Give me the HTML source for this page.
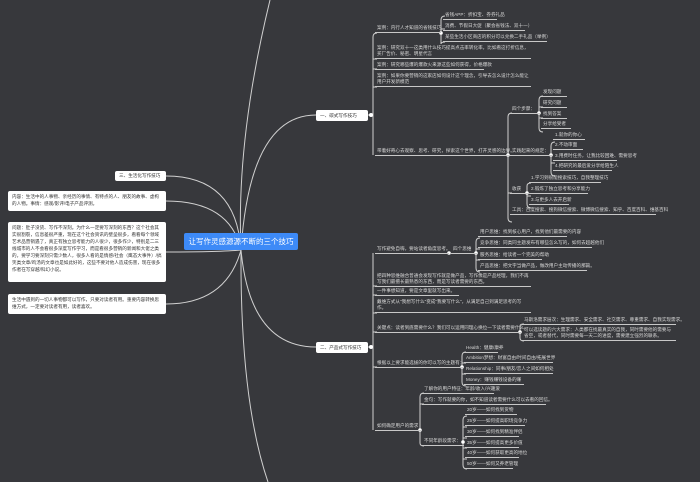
<!DOCTYPE html>
<html><head><meta charset="utf-8"><style>
body{margin:0;width:700px;height:482px;background:#37383c;position:relative;overflow:hidden;font-family:"Liberation Sans","Noto Sans CJK SC",sans-serif}
.t{position:absolute;font-size:4.6px;line-height:6px;color:#d8d8d8;border-bottom:1px solid #c8c8c8;padding:0 2px 1px;white-space:nowrap}
.w{white-space:normal}
.b{position:absolute;background:#fff;color:#333;border-radius:2px;font-size:4.6px;line-height:7px;padding:2px 4px;box-sizing:border-box}
.c{position:absolute;background:#3d8af7;color:#fff;border-radius:2px;font-size:7.5px;line-height:17px;text-align:center;white-space:nowrap;overflow:hidden}
</style></head><body>
<svg width="700" height="482" style="position:absolute;left:0;top:0" fill="none" stroke="#d0d0d0" stroke-width="1">
<path d="M241,250 Q236,176 166,176"/>
<path d="M241,250 Q230,201 166,201"/>
<path d="M241,250 Q220,252 166,252"/>
<path d="M241,250 Q226,304 166,304"/>
<path d="M241,250 Q250,115 316,115"/>
<path d="M241,250 Q250,347 316,347"/>
<path d="M241,250 Q236,140 270,0"/>
<path d="M241,250 Q240,400 268,482"/>
<path d="M368,115 H373 M373,155 V37 Q373,33 377,33 M373,59 H377 M373,69 H377 M373,87 H377"/>
<path d="M441,33 V20 Q441,16 445,16 M441,33 V44 Q441,42 445,42 M441,29 H445"/>
<path d="M508,155 V117 Q508,113 512,113 M508,155 V218 Q508,222 512,222 M508,193 H512"/>
<path d="M539,113 V100 Q539,96 543,96 M539,113 V128 Q539,132 543,132 M539,107 H543 M539,118 H543"/>
<path d="M551,155 V146 Q551,142 555,142 M551,155 V172 Q551,176 555,176 M551,163 H555"/>
<path d="M527,193 V186 Q527,183 531,183 M527,193 V204 Q527,208 531,208 M527,196 H531"/>
<path d="M368,347 H373 M373,253 V430 M373,286 H377 M373,295 H377 M373,313 H377 M373,332 H377 M373,367 H377"/>
<path d="M476,253 V242 Q476,238 480,238 M476,253 V268 Q476,272 480,272 M476,249 H480 M476,260 H480"/>
<path d="M520,332 V326 Q520,324 524,324 M520,332 V338 Q520,341 524,341"/>
<path d="M462,367 V356 Q462,352 466,352 M462,367 V382 Q462,386 466,386 M462,363 H466 M462,374 H466"/>
<path d="M420,430 V397 Q420,393 424,393 M420,430 V443 Q420,446 424,446 M420,404 H424"/>
<path d="M463,442 V420 Q463,416 467,416 M463,442 V465 Q463,469 467,469 M463,427 H467 M463,438 H467 M463,448 H467 M463,459 H467"/>
</svg>
<svg width="700" height="482" style="position:absolute;left:0;top:0" fill="#fff">
<circle cx="371" cy="115" r="2"/><circle cx="371" cy="347" r="2"/>
<circle cx="441" cy="33" r="1.8"/><circle cx="508" cy="155" r="1.8"/><circle cx="539" cy="113" r="1.8"/><circle cx="551" cy="155" r="1.8"/><circle cx="527" cy="193" r="1.8"/>
<circle cx="449" cy="253" r="1.8"/><circle cx="476" cy="253" r="1.8"/><circle cx="520" cy="332" r="1.8"/><circle cx="462" cy="367" r="1.8"/><circle cx="420" cy="430" r="1.8"/><circle cx="463" cy="442" r="1.8"/>
</svg>
<div class="c" style="left:184px;top:233px;width:114px;height:17px">让写作灵感源源不断的三个技巧</div>
<div class="b" style="left:115px;top:171px;width:51px;height:10px;line-height:6px;padding:2px 4px">三、生活化写作技巧</div>
<div class="b" style="left:8px;top:191px;width:158px;height:20px">内容：生活中的人事物、亲经历的事情、有特点的人、朋友的故事、虚构的人物。事情：感观/影评/电子产品评测。</div>
<div class="b" style="left:8px;top:222px;width:158px;height:60px">问题：肚子没货、写作不深刻。为什么一定要写深刻的东西？这个社会其实很割裂，信息差很严重，现在这个社会资讯的壁垒很多，看看每个领域艺术品营销遇了，真正有独立思考能力的人很少，很多作少，特别是二三线城市的人不会看很多深度写作学习，而是看很多营销的新闻和大佬之类的，要学习要深刻只需少数人，很多人看的是情感/社会（鹰态大事件）/搞笑类文章/鸡汤的文章也是如此好的，这些不要对他人造成伤害，现在很多作者在写穿越/科幻小说。</div>
<div class="b" style="left:8px;top:294px;width:158px;height:20px">生活中遇到的一切人事物都可以写作，只要对读者有用。重要内容转换思维方式，一定要对读者有用，读者喜欢。</div>
<div class="b" style="left:316px;top:110px;width:52px;height:11px;line-height:7px;padding:2px 4px">一、碳式写作技巧</div>
<div class="b" style="left:316px;top:342px;width:52px;height:11px;line-height:7px;padding:2px 4px">二、产品式写作技巧</div>
<div class="t" style="left:375px;top:25px;width:62px">案例：内行人才知道的省钱技巧</div>
<div class="t" style="left:443px;top:12px;width:50px">省钱APP：折扣宝、券券礼品</div>
<div class="t" style="left:443px;top:23px;width:78px">消费、节假日大促（聚会省钱法、双十一）</div>
<div class="t" style="left:443px;top:34px;width:100px">某些生活小区商店的积分可以兑换二手礼品（举例）</div>
<div class="t w" style="left:375px;top:45px;width:152px">案例：研究双十一这类用什么技巧提高点击率转化率，比如看这打折信息，买厂告价、秘密、明星代言</div>
<div class="t" style="left:375px;top:62px;width:105px">案例：研究哪些爆的爆款火来源这些如何获得，价格爆款</div>
<div class="t w" style="left:375px;top:73px;width:152px">案例：如果你要营销的这家店如何设计这个理念，引导去怎么设计怎么能让用户开发新模范</div>
<div class="t" style="left:375px;top:148px;width:131px">带着好奇心去观察、思考、研究，探索这个世界，打开灵感的边界。</div>
<div class="t" style="left:510px;top:106px;width:27px">四个步骤：</div>
<div class="t" style="left:541px;top:89px;width:22px">发现问题</div>
<div class="t" style="left:541px;top:100px;width:22px">研究问题</div>
<div class="t" style="left:541px;top:111px;width:22px">找到答案</div>
<div class="t" style="left:541px;top:121px;width:26px">分享给受者</div>
<div class="t" style="left:510px;top:148px;width:38px">实践起来的规定：</div>
<div class="t" style="left:553px;top:132px;width:28px">1.就你的你心</div>
<div class="t" style="left:553px;top:142px;width:26px">2.不动审面</div>
<div class="t" style="left:553px;top:153px;width:60px">3.用费时任务，让我比较困难、需要思考</div>
<div class="t" style="left:553px;top:163px;width:55px">4.把研究的最后爱分享给陌生人</div>
<div class="t" style="left:510px;top:186px;width:14px">收获</div>
<div class="t" style="left:529px;top:175px;width:68px">1.学习到很能搜索技巧，自我整理技巧</div>
<div class="t" style="left:529px;top:186px;width:55px">2.锻炼了独立思考和分享能力</div>
<div class="t" style="left:529px;top:197px;width:36px">3.与更多人去开启新</div>
<div class="t" style="left:510px;top:207px;width:142px">工具：百度搜索、搜狗微信搜索、微博微信搜索、知乎、百度百科、维基百科</div>
<div class="t" style="left:375px;top:246px;width:70px">写作避免自嗨，要站读者角度思考。</div>
<div class="t" style="left:451px;top:246px;width:22px">四个思维</div>
<div class="t" style="left:478px;top:229px;width:85px">用户思维：找到核心用户，找到他们最需要的内容</div>
<div class="t" style="left:478px;top:240px;width:110px">竞争思维：同类同主题发布有哪些怎么写的，如何去超越他们</div>
<div class="t" style="left:478px;top:252px;width:60px">服务思维：给读者一个完美的帮助</div>
<div class="t" style="left:478px;top:263px;width:105px">产品思维：把文字当做产品，做改用户主动传播的那篇。</div>
<div class="t w" style="left:375px;top:273px;width:152px">把四种思维融合普通会发现写作就是做产品，写作像是产品经理，我们不再写我们最擅长最熟悉的东西，而是写读者需要的东西。</div>
<div class="t" style="left:375px;top:288px;width:80px">一件事想知道，要是文章里就写出来。</div>
<div class="t w" style="left:375px;top:299px;width:152px">戴维方式从"我想写什么"变成"我要写什么"，从满足自己到满足思考的写作。</div>
<div class="t" style="left:375px;top:325px;width:142px">关键点：读者到底需要什么？我们可以运用同理心换位一下读者需要什么。</div>
<div class="t" style="left:522px;top:317px;width:150px">马斯洛需求层次：生理需求、安全需求、社交需求、尊重需求、自我实现需求。</div>
<div class="t w" style="left:522px;top:327px;width:150px">可以选读题的六大需求：人类都在找最真实的自我，同时需要他的需要与省空，或者替代，同时需要每一天二的进度，需要建立强烈的联系。</div>
<div class="t" style="left:375px;top:360px;width:84px">根据以上要求能选拔的你可以写的主题有：</div>
<div class="t" style="left:464px;top:345px;width:30px">Health：健康/康养</div>
<div class="t" style="left:464px;top:355px;width:85px">Ambition梦想：财富自由/时间自由/拓展世界</div>
<div class="t" style="left:464px;top:366px;width:85px">Relationship：同事/朋友/恋人之间如何相处</div>
<div class="t" style="left:464px;top:377px;width:56px">Money：赚钱赚钱设备的赚</div>
<div class="t" style="left:375px;top:423px;width:42px">如何确定用户的需求</div>
<div class="t" style="left:422px;top:386px;width:68px">了解你的用户特征：年龄/收入/兴趣爱</div>
<div class="t" style="left:422px;top:397px;width:120px">金句：写作就要的你，如不知道读者需要什么可以去看的回信。</div>
<div class="t" style="left:422px;top:438px;width:38px">不同年龄段需求：</div>
<div class="t" style="left:465px;top:407px;width:48px">20岁——如何找到货物</div>
<div class="t" style="left:465px;top:418px;width:56px">25岁——如何提高职场竞争力</div>
<div class="t" style="left:465px;top:429px;width:50px">30岁——如何找到精准伴侣</div>
<div class="t" style="left:465px;top:440px;width:50px">35岁——如何提高更多价值</div>
<div class="t" style="left:465px;top:450px;width:50px">40岁——如何获取更高的地位</div>
<div class="t" style="left:465px;top:461px;width:44px">50岁——如何又养老管理</div>
</body></html>
